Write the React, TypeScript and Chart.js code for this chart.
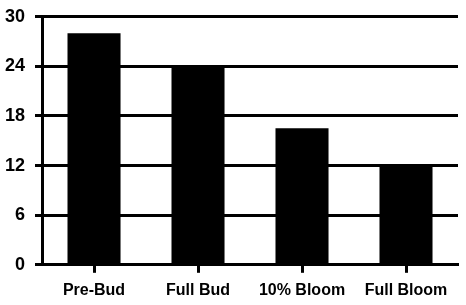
import React, { useEffect, useRef } from "react";
import { Chart, registerables } from "chart.js";

Chart.register(...registerables);

const stages = ["Pre-Bud", "Full Bud", "10% Bloom", "Full Bloom"];
const values = [28, 24, 16.5, 12];
const yMin = 0;
const yMax = 30;
const yStep = 6;

export default function App() {
  const canvasRef = useRef<HTMLCanvasElement | null>(null);

  useEffect(() => {
    document.body.style.margin = "0";
    const canvas = canvasRef.current;
    if (!canvas) return;
    const chart = new Chart(canvas, {
      type: "bar",
      data: {
        labels: stages,
        datasets: [
          {
            data: values,
            backgroundColor: "#000000",
            borderWidth: 0,
            categoryPercentage: 1,
            barPercentage: 0.51,
          },
        ],
      },
      options: {
        responsive: false,
        animation: false,
        devicePixelRatio: 1,
        layout: { padding: { left: -5, right: 8, top: 0, bottom: -3 } },
        plugins: {
          legend: { display: false },
          tooltip: { enabled: false },
        },
        scales: {
          x: {
            offset: true,
            grid: {
              offset: false,
              drawOnChartArea: false,
              drawTicks: true,
              tickLength: 8,
              tickWidth: 3,
              tickColor: "#000000",
            },
            border: { display: true, color: "#000000", width: 3 },
            ticks: {
              color: "#000000",
              padding: 8,
              maxRotation: 0,
              autoSkip: false,
              font: { family: "'Liberation Sans', Arial, sans-serif", size: 16, weight: "bold" },
            },
          },
          y: {
            min: yMin,
            max: yMax,
            grid: {
              color: "#000000",
              lineWidth: 3,
              drawTicks: true,
              tickLength: 7,
            },
            border: { display: true, color: "#000000", width: 3 },
            ticks: {
              stepSize: yStep,
              color: "#000000",
              padding: 10,
              font: { family: "'Liberation Sans', Arial, sans-serif", size: 18, weight: "bold", lineHeight: 0.75 },
            },
          },
        },
      },
    });
    return () => chart.destroy();
  }, []);

  return (
    <div style={{ width: 466, height: 305 }}>
      <canvas ref={canvasRef} width={466} height={305} />
    </div>
  );
}
